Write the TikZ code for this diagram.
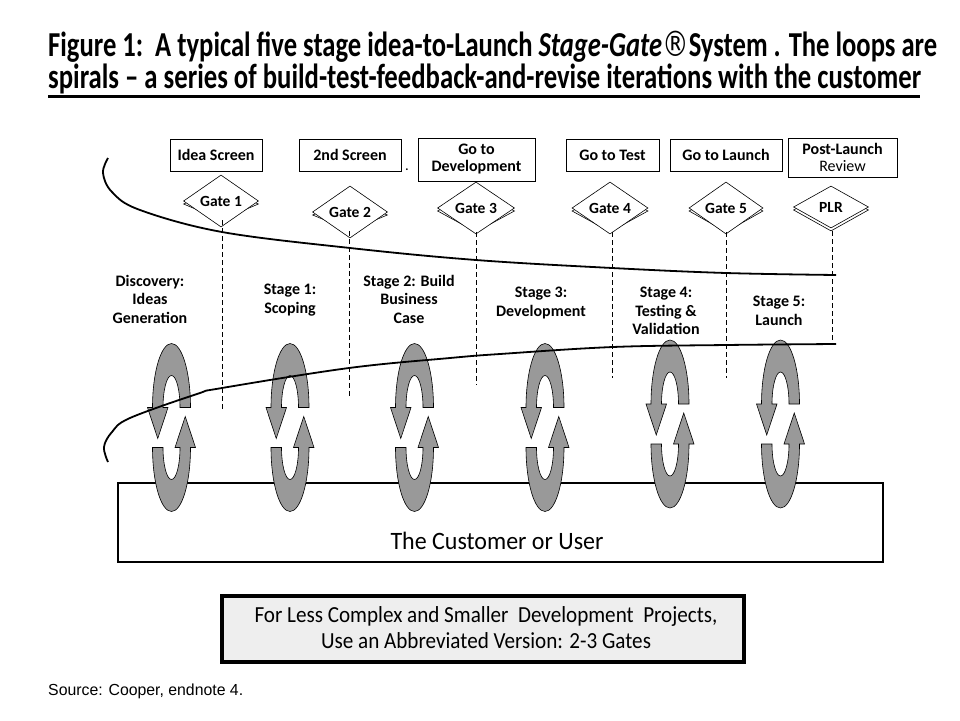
\documentclass[tikz,border=0pt]{standalone}
\usepackage{fontspec}
\setmainfont{Carlito}
\newfontfamily\arialfont{Liberation Sans}
\newfontfamily\dejavu{DejaVu Sans}
\usepackage{graphicx}
\usetikzlibrary{shapes.geometric}
\definecolor{spiralgray}{HTML}{999999}
\definecolor{boxgray}{HTML}{EEEEEE}
\tikzset{
  topbox/.style={draw, line width=0.8pt, font=\fontsize{16}{17}\selectfont\bfseries, align=center, inner sep=1pt},
  gate/.style={draw, line width=0.6pt, fill=white, shape=diamond, inner sep=0pt, font=\fontsize{15.5}{15}\selectfont\bfseries},
  gateback/.style={draw, line width=0.6pt, fill=white, shape=diamond, inner sep=0pt},
  stagetxt/.style={font=\fontsize{16}{18.5}\selectfont\bfseries, align=center},
  spiralfill/.style={fill=spiralgray, draw=black, line width=0.6pt},
  dashline/.style={dash pattern=on 5pt off 3pt, line width=0.7pt},
  curveline/.style={line width=1.8pt},
  spiral/.pic={
    \path[spiralfill] (-8.5,-20) -- (-19,-20) arc[start angle=180,end angle=360,x radius=19,y radius=64]
      -- (24,-20) -- (13.75,11) -- (3.5,-20) -- (8.5,-20)
      arc[start angle=360,end angle=180,x radius=8.5,y radius=32] -- cycle;
    \begin{scope}[rotate=180]
    \path[spiralfill] (-8.5,-20) -- (-19,-20) arc[start angle=180,end angle=360,x radius=19,y radius=64]
      -- (24,-20) -- (13.75,11) -- (3.5,-20) -- (8.5,-20)
      arc[start angle=360,end angle=180,x radius=8.5,y radius=32] -- cycle;
    \end{scope}
  }
}
\begin{document}
\begin{tikzpicture}[x=1pt, y=1pt, yscale=-1]
\useasboundingbox (0,0) rectangle (960,720);
\fill[white] (0,0) rectangle (960,720);

% title
\node[anchor=base west, inner sep=0pt] (t1) at (48,56)
  {\resizebox{889pt}{\height}{\fontsize{35}{38}\selectfont\bfseries Figure 1:\ \ A typical five stage idea-to-Launch \textit{Stage-Gate}{\dejavu\mdseries ®}System . The loops are}};
\node[anchor=base west, inner sep=0pt] (t2) at (48,88)
  {\resizebox{873pt}{\height}{\fontsize{35}{38}\selectfont\bfseries spirals – a series of build-test-feedback-and-revise iterations with the customer}};
\coordinate (ul1) at (48,96);
\coordinate (ul2) at (920,96);
\draw[line width=3pt] (ul1) -- (ul2);

% top boxes
\node[topbox, minimum width=92, minimum height=32] (b1) at (216,155) {Idea Screen};
\node[topbox, minimum width=102, minimum height=32] (b2) at (350,155) {2nd Screen};
\node[topbox, minimum width=117, minimum height=43] (b3) at (476.5,159.5) {Go to\\Development};
\node[topbox, minimum width=93, minimum height=32] (b4) at (612.5,155) {Go to Test};
\node[topbox, minimum width=112, minimum height=32] (b5) at (726,155) {Go to Launch};
\node[topbox, minimum width=109, minimum height=39] (b6) at (842.5,157.5) {Post-Launch\\\mdseries Review};
\node[font=\fontsize{12}{12}\selectfont\bfseries, inner sep=0pt] (dot1) at (407,170) {.};

% upper curve
\draw[curveline] plot[smooth, tension=0.6] coordinates {(108,158) (103,173) (112,192) (140,210) (222,232) (350,248) (476,260) (612,268) (726,273) (836,275)};

% customer box
\node[draw, line width=1.2pt, minimum width=765, minimum height=79, inner sep=0pt] (cust) at (500.5,522.5) {};
\node[anchor=base, inner sep=0pt, font=\fontsize{25}{27}\selectfont] (custtxt) at (497,549) {\resizebox{213pt}{\height}{The Customer or User}};

% gates
\node[gateback, minimum width=75, minimum height=32] (g1b) at (221,204) {};
\node[gate, minimum width=75, minimum height=32] (g1) at (221,201) {Gate 1};
\node[gateback, minimum width=75, minimum height=31] (g2b) at (350,215) {};
\node[gate, minimum width=75, minimum height=31] (g2) at (350,212) {Gate 2};
\node[gateback, minimum width=77, minimum height=42] (g3b) at (476,211) {};
\node[gate, minimum width=77, minimum height=42] (g3) at (476,208) {Gate 3};
\node[gateback, minimum width=76, minimum height=42] (g4b) at (610,211) {};
\node[gate, minimum width=76, minimum height=42] (g4) at (610,208) {Gate 4};
\node[gateback, minimum width=74, minimum height=42] (g5b) at (726,211) {};
\node[gate, minimum width=74, minimum height=42] (g5) at (726,208) {Gate 5};
\node[gateback, minimum width=75, minimum height=42] (g6b) at (831,210) {};
\node[gate, minimum width=75, minimum height=42] (g6) at (831,207) {PLR};

% dashed lines
\coordinate (d1) at (222,412);
\coordinate (d2) at (349,398);
\coordinate (d3) at (476,385);
\coordinate (d4) at (612,378);
\coordinate (d5) at (726,378);
\coordinate (d6) at (832,345);
\draw[dashline] (g1b.south -| d1) -- (d1);
\draw[dashline] (g2b.south -| d2) -- (d2);
\draw[dashline] (g3b.south -| d3) -- (d3);
\draw[dashline] (g4b.south -| d4) -- (d4);
\draw[dashline] (g5b.south -| d5) -- (d5);
\draw[dashline] (g6b.south -| d6) -- (d6);

% stage labels
\node[stagetxt] (s0) at (150,299) {Discovery:\\Ideas\\Generation};
\node[stagetxt] (s1) at (290,300) {Stage 1:\\Scoping};
\node[stagetxt] (s2) at (409,299) {Stage 2: Build\\Business\\Case};
\node[stagetxt] (s3) at (541,303) {Stage 3:\\Development};
\node[stagetxt] (s4) at (666,311) {Stage 4:\\Testing \&\\Validation};
\node[stagetxt] (s5) at (779,311) {Stage 5:\\Launch};

% spirals
\pic at (171.5,427.5) {spiral};
\pic at (290,427.5) {spiral};
\pic at (414.5,427.5) {spiral};
\pic at (545,427.5) {spiral};
\pic at (670,424) {spiral};
\pic at (780.5,424) {spiral};

% lower curve
\draw[curveline] plot[smooth, tension=0.6] coordinates {(108,462) (104,447) (112,432) (130,418) (197,394) (222,388) (349,368) (450,358) (500,354) (613,347) (726,345) (836,344)};

% bottom box
\node[draw, line width=3.5pt, fill=boxgray, minimum width=522, minimum height=66, inner sep=0pt] (note) at (483,629) {};
\node[anchor=base, inner sep=0pt, font=\fontsize{23}{25}\selectfont] (note1) at (486,622) {\resizebox{463pt}{\height}{For Less Complex and Smaller\ \ Development\ \ Projects,}};
\node[anchor=base, inner sep=0pt, font=\fontsize{23}{25}\selectfont] (note2) at (486,648) {\resizebox{330pt}{\height}{Use an Abbreviated Version: 2-3 Gates}};

% source
\node[anchor=base west, inner sep=0pt, font=\arialfont\fontsize{16}{18}\selectfont] (src) at (48,695) {\resizebox{195pt}{\height}{Source: Cooper, endnote 4.}};
\end{tikzpicture}
\end{document}
